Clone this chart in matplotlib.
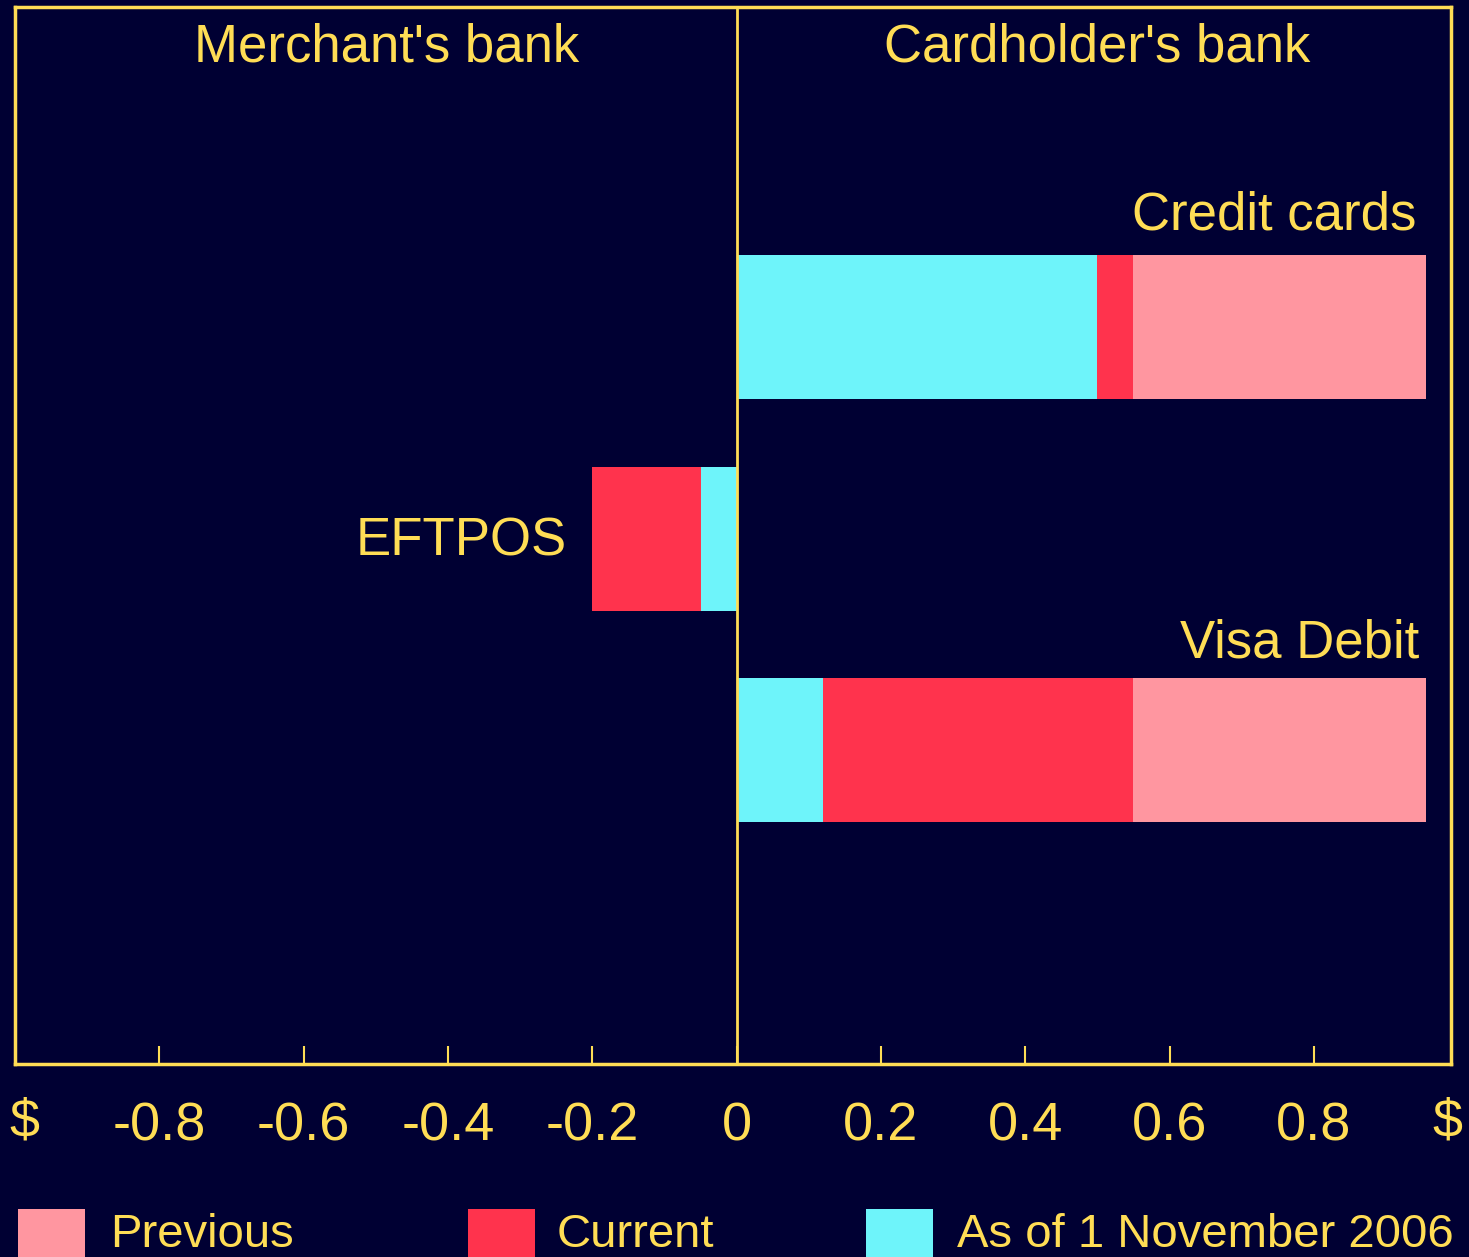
import matplotlib
matplotlib.use("Agg")
import matplotlib.pyplot as plt
from matplotlib.patches import Rectangle

# ---- data ----
categories = ["Visa Debit", "EFTPOS", "Credit cards"]
previous = [0.955, -0.20, 0.955]
current = [0.55, -0.20, 0.55]
nov2006 = [0.12, -0.05, 0.50]
series_names = ["Previous", "Current", "As of 1 November 2006"]
xticks = [-0.8, -0.6, -0.4, -0.2, 0, 0.2, 0.4, 0.6, 0.8]
xtick_labels = ["-0.8", "-0.6", "-0.4", "-0.2", "0", "0.2", "0.4", "0.6", "0.8"]
side_labels = ["Merchant's bank", "Cardholder's bank"]

BG = "#000033"
YEL = "#FFDD55"
PINK = "#FF96A0"
RED = "#FF334D"
CYAN = "#6EF4FA"
colors = [PINK, RED, CYAN]

plt.rcParams['font.family'] = ['Liberation Sans', 'DejaVu Sans']
FS_TICK = 39
FS_TXT = 38
FS_LEG = 34

W, H = 1469, 1257
fig = plt.figure(figsize=(W / 100, H / 100), dpi=100, facecolor=BG)
ax = fig.add_axes([15 / W, (H - 1064) / H, (1451 - 15) / W, (1064 - 7) / H])
ax.set_facecolor(BG)

ypos = [1.5, 2.5, 3.5]
bh = 0.68
for vals, c in zip([previous, current, nov2006], colors):
    ax.barh(ypos, vals, height=bh, color=c, linewidth=0)

ax.axvline(0, color=YEL, lw=2, zorder=5)

ax.set_xlim(-1.0, 0.99)
ax.set_ylim(0.015, 5.015)
ax.set_yticks([])
ax.set_xticks(xticks)
ax.set_xticklabels(xtick_labels)
ax.tick_params(axis='x', direction='in', length=13, width=1.5, color=YEL,
               labelcolor=YEL, labelsize=FS_TICK, pad=27)
for s in ax.spines.values():
    s.set_color(YEL)
    s.set_linewidth(2.5)

# "$" at both ends of the axis
for xp in (24, 1447):
    fig.text(xp / W, 1 - 1122 / H, "$", color=YEL, fontsize=FS_TICK, ha='center', va='center')

# headers
ax.text(-0.485, 1 - (47 - 7) / 1057, side_labels[0], transform=ax.get_xaxis_transform(),
        color=YEL, fontsize=FS_TXT, ha='center', va='center')
ax.text(0.4995, 1 - (47 - 7) / 1057, side_labels[1], transform=ax.get_xaxis_transform(),
        color=YEL, fontsize=FS_TXT, ha='center', va='center')

# category labels
ax.text(0.942, 4.03, categories[2], color=YEL, fontsize=FS_TXT, ha='right', va='center')
ax.text(0.946, 2.005, categories[0], color=YEL, fontsize=FS_TXT, ha='right', va='center')
ax.text(-0.236, 2.485, categories[1], color=YEL, fontsize=FS_TXT, ha='right', va='center')

# legend
leg_patch_x = [18, 468, 866]
leg_text_x = [110, 557, 957]
for name, c, px, tx in zip(series_names, colors, leg_patch_x, leg_text_x):
    fig.patches.append(Rectangle((px / W, (H - 1276) / H), 67 / W, 67 / H,
                                 transform=fig.transFigure, color=c, lw=0))
    fig.text(tx / W, 1 - 1247 / H, name, color=YEL, fontsize=FS_LEG, ha='left', va='baseline')

fig.savefig("out.png", dpi=100, facecolor=BG)
